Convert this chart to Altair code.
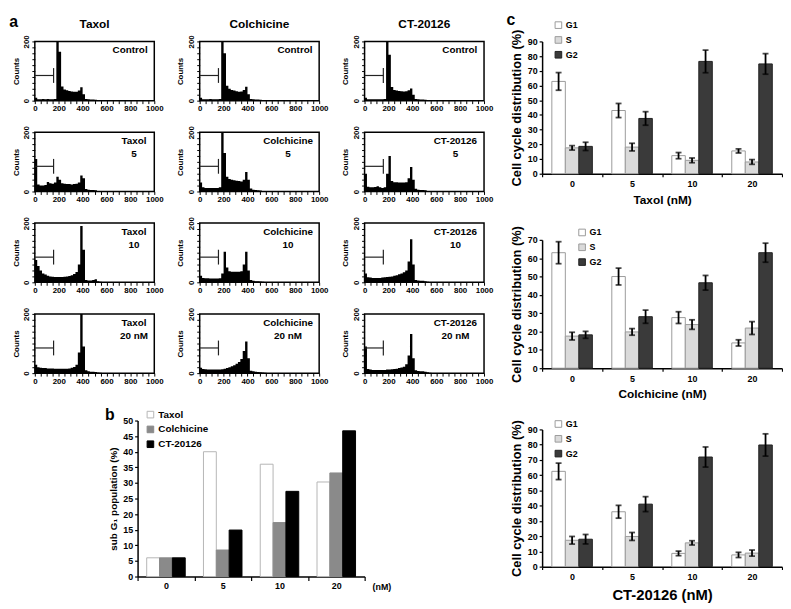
import altair as alt
import pandas as pd

FONT = "Liberation Sans"

# ---------------- panel a : DNA content histograms ----------------
DRUGS = ["Taxol", "Colchicine", "CT-20126"]
CONDITIONS = ["Control", "5", "10", "20 nM"]
BIN_STARTS = [0, 20, 40, 60, 80, 100, 120, 140, 160, 180, 200, 220, 240, 260,
              280, 300, 320, 340, 360, 380, 400, 420, 440, 460, 480, 500, 520, 540]
BIN_WIDTH = 20

TAXOL_CONTROL = [10, 5, 5, 6, 5, 6, 5, 5, 6, 230, 165, 48, 38, 35, 33, 31, 30, 30, 34, 45, 22, 6, 5, 4, 4, 3, 2, 1]
TAXOL_5 = [110, 24, 20, 20, 22, 32, 28, 26, 30, 50, 40, 28, 26, 25, 25, 24, 25, 26, 30, 54, 45, 8, 6, 5, 5, 4, 2, 1]
TAXOL_10 = [75, 55, 40, 30, 26, 22, 20, 19, 18, 18, 18, 18, 19, 20, 21, 24, 28, 35, 60, 190, 110, 8, 6, 6, 8, 10, 4, 2]
TAXOL_20 = [28, 20, 18, 17, 17, 16, 16, 16, 15, 15, 15, 15, 15, 15, 16, 18, 21, 28, 70, 230, 90, 10, 6, 5, 5, 4, 2, 1]
COLCH_CONTROL = [10, 5, 5, 5, 6, 5, 5, 5, 6, 230, 160, 50, 40, 36, 34, 32, 30, 31, 36, 47, 22, 6, 5, 4, 4, 3, 2, 1]
COLCH_5 = [30, 14, 12, 12, 12, 12, 12, 12, 14, 230, 130, 50, 42, 40, 38, 36, 35, 34, 40, 66, 40, 10, 6, 5, 4, 3, 2, 1]
COLCH_10 = [22, 15, 14, 14, 13, 13, 13, 13, 14, 30, 103, 50, 37, 36, 36, 36, 36, 37, 60, 103, 40, 8, 5, 4, 4, 3, 2, 1]
COLCH_20 = [18, 14, 13, 12, 12, 12, 12, 12, 12, 13, 15, 17, 20, 23, 27, 32, 38, 48, 75, 107, 50, 8, 6, 5, 4, 3, 2, 1]
CT_CONTROL = [10, 5, 5, 5, 5, 5, 5, 5, 6, 230, 155, 46, 36, 34, 33, 32, 31, 32, 35, 41, 20, 6, 5, 4, 4, 3, 2, 1]
CT_5 = [60, 16, 14, 14, 15, 18, 14, 12, 14, 60, 120, 35, 31, 31, 30, 30, 30, 31, 45, 83, 40, 9, 6, 5, 5, 4, 2, 1]
CT_10 = [30, 17, 16, 15, 15, 15, 15, 16, 17, 18, 19, 20, 22, 24, 27, 30, 34, 40, 70, 145, 60, 8, 6, 5, 5, 4, 2, 1]
CT_20 = [90, 14, 12, 11, 11, 11, 11, 11, 11, 12, 12, 13, 14, 15, 17, 19, 22, 30, 60, 132, 50, 10, 7, 6, 6, 5, 3, 1]

HISTOGRAMS = {
    "Taxol": [TAXOL_CONTROL, TAXOL_5, TAXOL_10, TAXOL_20],
    "Colchicine": [COLCH_CONTROL, COLCH_5, COLCH_10, COLCH_20],
    "CT-20126": [CT_CONTROL, CT_5, CT_10, CT_20],
}

GATE_RANGE = [0, 157]
GATE_LEVEL = 85
GATE_END_SPAN = [60, 110]

A_X_TICKS = [0, 50, 100, 150, 200, 250, 300, 350, 400, 450, 500,
             550, 600, 650, 700, 750, 800, 850, 900, 950, 1000]
A_Y_TICKS = [0, 20, 40, 60, 80, 100, 120, 140, 160, 180, 200]

# ---------------- panel b : sub-G1 population ----------------
DOSES = ["0", "5", "10", "20"]
SUBG1_TAXOL = [6.0, 40.0, 36.0, 30.3]
SUBG1_COLCHICINE = [6.0, 8.5, 17.3, 33.2]
SUBG1_CT = [6.0, 14.9, 27.3, 46.7]
B_TICKS = [0, 5, 10, 15, 20, 25, 30, 35, 40, 45, 50]

# ---------------- panel c : cell-cycle distribution ----------------
PHASES = ["G1", "S", "G2"]
TAXOL_G1 = [62.8, 43.0, 12.3, 15.5]
TAXOL_G1_ERR = [6.0, 4.8, 2.1, 1.4]
TAXOL_S = [17.6, 18.1, 9.1, 8.0]
TAXOL_S_ERR = [1.5, 2.6, 1.6, 1.6]
TAXOL_G2 = [18.6, 37.6, 76.4, 74.7]
TAXOL_G2_ERR = [2.8, 4.6, 7.7, 7.0]
COLCH_G1 = [63.0, 50.0, 27.6, 13.8]
COLCH_G1_ERR = [6.0, 4.6, 3.2, 1.7]
COLCH_S = [17.5, 19.8, 23.8, 21.9]
COLCH_S_ERR = [2.1, 1.8, 2.6, 3.5]
COLCH_G2 = [18.2, 28.1, 46.6, 63.0]
COLCH_G2_ERR = [1.9, 3.6, 4.0, 5.2]
CT_G1 = [62.5, 36.0, 8.7, 7.7]
CT_G1_ERR = [5.4, 4.2, 1.5, 1.7]
CT_S = [17.3, 19.8, 15.6, 8.9]
CT_S_ERR = [2.5, 2.6, 1.4, 2.0]
CT_G2 = [18.0, 41.0, 71.9, 79.8]
CT_G2_ERR = [3.1, 4.9, 6.6, 7.3]
C_TICKS_90 = [0, 10, 20, 30, 40, 50, 60, 70, 80, 90]
C_TICKS_70 = [0, 10, 20, 30, 40, 50, 60, 70]

# ---------------- building ----------------
W_A, H_A = 121, 60
LABEL_W = {"Control": 37, "Taxol": 29, "Colchicine": 51, "CT-20126": 46}
BOLD = dict(font=FONT, fontWeight="bold")

A_XAXIS = alt.Axis(values=A_X_TICKS, format="d",
                   labelExpr="datum.value % 200 === 0 ? datum.label : ''",
                   labelOverlap=False, labelFontSize=8, labelFontWeight="bold",
                   labelPadding=1, labelFlush=False, tickSize=3,
                   tickWidth=1, domain=False, grid=False, title=None)
A_YAXIS = alt.Axis(values=A_Y_TICKS, format="d",
                   labelExpr="datum.value === 0 || datum.value === 200 ? datum.label : ''",
                   labelOverlap=False, labelAngle=270, labelAlign="center",
                   labelBaseline="bottom", labelFontSize=8, labelFontWeight="bold",
                   labelPadding=1, tickSize=3,
                   tickWidth=1, domain=False, grid=False, title="Counts",
                   titleFontSize=8, titleFontWeight="bold", titlePadding=3)


def histogram_cell(drug, ci, row, col):
    counts = HISTOGRAMS[drug][ci]
    cond = CONDITIONS[ci]
    edges = BIN_STARTS + [BIN_STARTS[-1] + BIN_WIDTH]
    df = pd.DataFrame({"channel": edges, "count": list(counts) + [0]})
    xs = alt.Scale(domain=[0, 1000], nice=False, zero=False)
    ys = alt.Scale(domain=[0, 200], nice=False)
    area = alt.Chart(df).mark_area(interpolate="step-after", color="black", clip=True).encode(
        x=alt.X("channel:Q", scale=xs, axis=A_XAXIS),
        y=alt.Y("count:Q", scale=ys, axis=A_YAXIS),
    )
    gate_df = pd.DataFrame({"x0": [GATE_RANGE[0]], "x1": [GATE_RANGE[1]], "lvl": [GATE_LEVEL],
                            "lo": [GATE_END_SPAN[0]], "hi": [GATE_END_SPAN[1]]})
    gate_h = alt.Chart(gate_df).mark_rule(color="#222222", strokeWidth=1.2).encode(
        x=alt.X("x0:Q", scale=xs, axis=A_XAXIS), x2="x1:Q",
        y=alt.Y("lvl:Q", scale=ys, axis=A_YAXIS))
    gate_v = alt.Chart(gate_df).mark_rule(color="#222222", strokeWidth=1.2).encode(
        x=alt.X("x1:Q", scale=xs, axis=A_XAXIS),
        y=alt.Y("lo:Q", scale=ys, axis=A_YAXIS), y2="hi:Q")
    line1 = "Control" if cond == "Control" else drug
    text = line1 if cond == "Control" else drug + "\n" + cond
    lab = alt.Chart(pd.DataFrame({"t": [text]})).mark_text(
        fontSize=10, align="center", baseline="top", lineBreak="\n", lineHeight=13, **BOLD
    ).encode(text="t:N", x=alt.value(W_A - 6 - LABEL_W[line1] / 2), y=alt.value(4))
    layers = [area, gate_h, gate_v, lab]
    if row == 0:
        head = alt.Chart(pd.DataFrame({"t": [drug]})).mark_text(
            fontSize=12, align="center", baseline="alphabetic", **BOLD
        ).encode(text="t:N", x=alt.value(W_A / 2), y=alt.value(-14))
        layers.append(head)
    if row == 0 and col == 0:
        plab = alt.Chart(pd.DataFrame({"t": ["a"]})).mark_text(
            fontSize=16, align="left", baseline="alphabetic", **BOLD
        ).encode(text="t:N", x=alt.value(-26), y=alt.value(-15))
        layers.append(plab)
    return alt.layer(*layers).properties(
        width=W_A, height=H_A,
        view=alt.ViewBackground(stroke="black", strokeWidth=1.5))


cells = []
for r in range(4):
    for c, drug in enumerate(DRUGS):
        cells.append(histogram_cell(drug, r, r, c))
grid_a = alt.concat(*cells, columns=3, spacing={"row": 32, "column": 46}, bounds="flush")

# ----- panel b -----
W_B, H_B = 230, 158
b_rows = []
for drug, vals in zip(DRUGS, [SUBG1_TAXOL, SUBG1_COLCHICINE, SUBG1_CT]):
    for d, v in zip(DOSES, vals):
        b_rows.append({"dose": d, "drug": drug, "value": v})
b_df = pd.DataFrame(b_rows)
leg_b = alt.Legend(orient="none", legendX=8, legendY=-11, title=None, symbolType="square",
                   symbolSize=45, symbolStrokeWidth=1, labelFont=FONT, labelFontSize=10,
                   labelFontWeight="bold", rowPadding=3, labelOffset=3)
bars_b = alt.Chart(b_df).mark_bar(strokeWidth=1).encode(
    x=alt.X("dose:N", scale=alt.Scale(domain=DOSES, paddingInner=0, paddingOuter=0),
            axis=alt.Axis(tickBand="extent", labelAngle=0, labelFontSize=9, labelFontWeight="bold",
                          labelPadding=1, tickSize=4, tickWidth=1.2, domainWidth=1.5,
                          title="(nM)", titleX=W_B + 17, titleY=10, titleAlign="center",
                          titleBaseline="middle", titleAngle=0, titleFontSize=9,
                          titleFontWeight="bold")),
    xOffset=alt.XOffset("drug:N", scale=alt.Scale(domain=DRUGS, paddingInner=0, paddingOuter=0.71)),
    y=alt.Y("value:Q", scale=alt.Scale(domain=[0, 50], nice=False),
            axis=alt.Axis(values=B_TICKS, labelFontSize=9, labelFontWeight="bold", tickSize=3,
                          tickWidth=1.2, domainWidth=1.5, labelPadding=2, labelOverlap=False,
                          title="sub G₁ population (%)", titleFontSize=10,
                          titleFontWeight="bold", titlePadding=4)),
    fill=alt.Fill("drug:N",
                  scale=alt.Scale(domain=DRUGS, range=["white", "#8a8a8a", "black"]), legend=leg_b),
    stroke=alt.Stroke("drug:N",
                      scale=alt.Scale(domain=DRUGS, range=["#b5b5b5", "#8a8a8a", "black"]), legend=leg_b),
)
blab = alt.Chart(pd.DataFrame({"t": ["b"]})).mark_text(
    fontSize=16, align="left", baseline="alphabetic", **BOLD
).encode(text="t:N", x=alt.value(-33), y=alt.value(-1))
chart_b = alt.layer(bars_b, blab).properties(width=W_B, height=H_B)

# ----- panel c -----
W_C = 243


def cycle_chart(name, series, ticks, height, title_size, legend_x, legend_y, panel_label=None):
    rows = []
    for phase, (vals, errs) in zip(PHASES, series):
        for d, v, e in zip(DOSES, vals, errs):
            rows.append({"dose": d, "phase": phase, "value": v, "lo": v - e, "hi": v + e})
    df = pd.DataFrame(rows)
    leg = alt.Legend(orient="none", legendX=legend_x, legendY=legend_y, title=None,
                     symbolType="square", symbolSize=45, symbolStrokeWidth=1, labelFont=FONT,
                     labelFontSize=9, labelFontWeight="bold", rowPadding=4, labelOffset=3)
    xsc = alt.Scale(domain=DOSES, paddingInner=0, paddingOuter=0)
    osc = alt.Scale(domain=PHASES, paddingInner=0, paddingOuter=0.72)
    xax = alt.Axis(tickBand="extent", labelAngle=0, labelFontSize=9, labelFontWeight="bold",
                   labelPadding=3, tickSize=3, tickWidth=1.2, domainWidth=1.5,
                   title=name + " (nM)", titleFontSize=title_size,
                   titleFontWeight="bold", titlePadding=6)
    yax = alt.Axis(values=ticks, labelFontSize=9, labelFontWeight="bold", tickSize=3,
                   tickWidth=1.2, domainWidth=1.5, labelPadding=2, labelOverlap=False,
                   title="Cell cycle distribution (%)", titleFontSize=13,
                   titleFontWeight="bold", titlePadding=4)
    x = alt.X("dose:N", scale=xsc, axis=xax)
    xo = alt.XOffset("phase:N", scale=osc)
    ys = alt.Scale(domain=[0, ticks[-1]], nice=False)
    bars = alt.Chart(df).mark_bar(strokeWidth=1).encode(
        x=x, xOffset=xo,
        y=alt.Y("value:Q", scale=ys, axis=yax),
        fill=alt.Fill("phase:N",
                      scale=alt.Scale(domain=PHASES, range=["white", "#dadada", "#3a3a3a"]), legend=leg),
        stroke=alt.Stroke("phase:N",
                          scale=alt.Scale(domain=PHASES, range=["#9a9a9a", "#9a9a9a", "#222222"]), legend=leg),
    )
    err = alt.Chart(df).mark_rule(color="black", strokeWidth=1.8).encode(
        x=x, xOffset=xo, y=alt.Y("lo:Q", scale=ys, axis=yax), y2="hi:Q")
    cap_lo = alt.Chart(df).mark_tick(color="black", thickness=1.8, size=6).encode(
        x=x, xOffset=xo, y=alt.Y("lo:Q", scale=ys, axis=yax))
    cap_hi = alt.Chart(df).mark_tick(color="black", thickness=1.8, size=6).encode(
        x=x, xOffset=xo, y=alt.Y("hi:Q", scale=ys, axis=yax))
    layers = [bars, err, cap_lo, cap_hi]
    if panel_label:
        layers.append(alt.Chart(pd.DataFrame({"t": [panel_label]})).mark_text(
            fontSize=16, align="left", baseline="alphabetic", **BOLD
        ).encode(text="t:N", x=alt.value(-36), y=alt.value(-17)))
    return alt.layer(*layers).properties(width=W_C, height=height)


c1 = cycle_chart("Taxol", [(TAXOL_G1, TAXOL_G1_ERR), (TAXOL_S, TAXOL_S_ERR), (TAXOL_G2, TAXOL_G2_ERR)],
                 C_TICKS_90, 134, 12, 12, -21, "c")
c2 = cycle_chart("Colchicine", [(COLCH_G1, COLCH_G1_ERR), (COLCH_S, COLCH_S_ERR), (COLCH_G2, COLCH_G2_ERR)],
                 C_TICKS_70, 130, 12, 36, -12)
c3 = cycle_chart("CT-20126", [(CT_G1, CT_G1_ERR), (CT_S, CT_S_ERR), (CT_G2, CT_G2_ERR)],
                 C_TICKS_90, 139, 15, 12, -10)

IND = dict(fill="independent", stroke="independent")
INDS = dict(fill="independent", stroke="independent", xOffset="independent",
            x="independent", y="independent")
left = alt.vconcat(grid_a, chart_b, spacing=21, center=True).resolve_scale(**INDS).resolve_legend(**IND)
right = alt.vconcat(c1, c2, c3, spacing=20).resolve_scale(**INDS).resolve_legend(**IND)
chart = alt.hconcat(left, right, spacing=13).resolve_scale(**INDS).resolve_legend(**IND).properties(
    padding=0
).configure(font=FONT).configure_view(stroke=None).configure_axis(
    labelColor="black", titleColor="black", domainColor="black", tickColor="black", grid=False
)

chart.save("out.html", embed_options={"renderer": "svg", "actions": False})
